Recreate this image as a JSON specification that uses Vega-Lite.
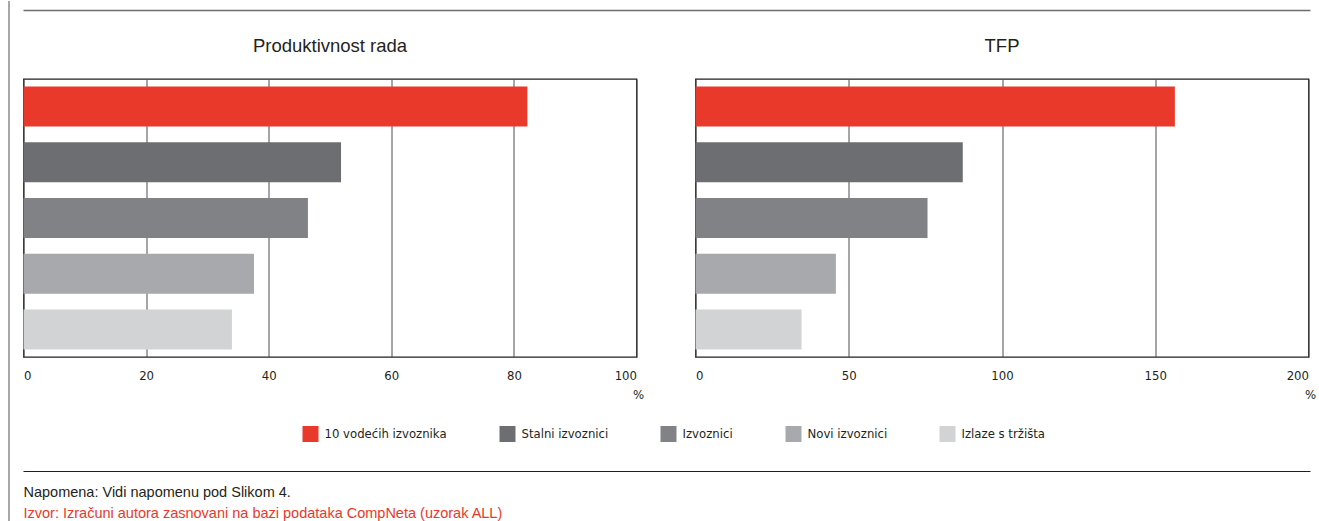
{
  "$schema": "https://vega.github.io/schema/vega-lite/v6.json",
  "padding": {"left": 8, "top": 0, "right": 0, "bottom": 0},
  "background": "white",
  "spacing": 12.5,
  "datasets": {
    "bars": [
      {"panel": "Produktivnost rada", "group": "10 vodećih izvoznika", "value": 82.2},
      {"panel": "Produktivnost rada", "group": "Stalni izvoznici", "value": 51.8},
      {"panel": "Produktivnost rada", "group": "Izvoznici", "value": 46.4},
      {"panel": "Produktivnost rada", "group": "Novi izvoznici", "value": 37.6},
      {"panel": "Produktivnost rada", "group": "Izlaze s tržišta", "value": 34.0},
      {"panel": "TFP", "group": "10 vodećih izvoznika", "value": 156.4},
      {"panel": "TFP", "group": "Stalni izvoznici", "value": 87.2},
      {"panel": "TFP", "group": "Izvoznici", "value": 75.7},
      {"panel": "TFP", "group": "Novi izvoznici", "value": 45.8},
      {"panel": "TFP", "group": "Izlaze s tržišta", "value": 34.6}
    ],
    "notes": [
      {"order": 1, "line": "Napomena: Vidi napomenu pod Slikom 4.", "kind": "note"},
      {"order": 2, "line": "Izvor: Izračuni autora zasnovani na bazi podataka CompNeta (uzorak ALL)", "kind": "source"}
    ],
    "one": [{"k": 1}]
  },
  "config": {
    "view": {"stroke": "#231f20", "strokeWidth": 1.3},
    "font": "Liberation Sans",
    "title": {"font": "Liberation Sans", "fontSize": 18.5, "fontWeight": "normal", "color": "#231f20", "offset": 24},
    "axis": {
      "labelFont": "Liberation Sans Narrow, DejaVu Sans Condensed, sans-serif",
      "labelFontSize": 13,
      "labelColor": "#231f20",
      "titleFont": "Liberation Sans Narrow, DejaVu Sans Condensed, sans-serif",
      "titleFontSize": 13,
      "titleFontWeight": "normal",
      "titleColor": "#231f20"
    }
  },
  "resolve": {"scale": {"color": "independent"}, "legend": {"color": "independent"}},
  "hconcat": [
    {
      "data": {"name": "one"},
      "width": 1,
      "height": 521,
      "view": {"stroke": null},
      "mark": {"type": "rule", "color": "#6d6e71", "strokeWidth": 1.2},
      "encoding": {"x": {"value": 0}}
    },
    {
      "spacing": 0,
      "resolve": {"scale": {"color": "independent"}, "legend": {"color": "independent"}},
      "vconcat": [
        {
          "data": {"name": "one"},
          "width": 1287,
          "height": 34,
          "view": {"stroke": null},
          "mark": {"type": "rule", "color": "#6d6e71", "strokeWidth": 1.5},
          "encoding": {"y": {"value": 9.5}}
        },
        {
          "data": {"name": "bars"},
          "spacing": 59,
          "bounds": "flush",
          "hconcat": [
            {
              "title": {"text": "Produktivnost rada"},
              "width": 613,
              "height": 278,
              "transform": [{"filter": "datum.panel === 'Produktivnost rada'"}],
              "mark": {"type": "bar"},
              "encoding": {
                "y": {"field": "group", "type": "nominal", "sort": ["10 vodećih izvoznika", "Stalni izvoznici", "Izvoznici", "Novi izvoznici", "Izlaze s tržišta"], "axis": null, "scale": {"paddingInner": 0.2825, "paddingOuter": 0.135}},
                "x": {"field": "value", "type": "quantitative", "scale": {"domain": [0, 100], "nice": false}, "axis": {"values": [0, 20, 40, 60, 80, 100], "title": "%", "domain": false, "ticks": false, "grid": true, "gridColor": "#4d4d4f", "gridWidth": 1, "gridOpacity": 1, "labelPadding": 12, "titleAnchor": "end", "titleAlign": "right", "titleX": 620, "titleY": 37, "titleBaseline": "middle"}},
                "color": {"field": "group", "type": "nominal", "scale": {"domain": ["10 vodećih izvoznika", "Stalni izvoznici", "Izvoznici", "Novi izvoznici", "Izlaze s tržišta"], "range": ["#e8392b", "#6d6e71", "#808285", "#a7a9ac", "#d1d3d4"]},
                  "legend": {"orient": "none", "legendX": 279, "legendY": 347, "direction": "horizontal", "title": null, "symbolType": "square", "symbolSize": 256, "symbolStrokeWidth": 0, "symbolOpacity": 1, "labelFont": "Liberation Sans Narrow, DejaVu Sans Condensed, sans-serif", "labelFontSize": 13, "labelColor": "#231f20", "labelOffset": 6, "columnPadding": 52, "labelLimit": 300}}
              }
            },
            {
              "title": {"text": "TFP"},
              "width": 613,
              "height": 278,
              "transform": [{"filter": "datum.panel === 'TFP'"}],
              "mark": {"type": "bar"},
              "encoding": {
                "y": {"field": "group", "type": "nominal", "sort": ["10 vodećih izvoznika", "Stalni izvoznici", "Izvoznici", "Novi izvoznici", "Izlaze s tržišta"], "axis": null, "scale": {"paddingInner": 0.2825, "paddingOuter": 0.135}},
                "x": {"field": "value", "type": "quantitative", "scale": {"domain": [0, 200], "nice": false}, "axis": {"values": [0, 50, 100, 150, 200], "title": "%", "domain": false, "ticks": false, "grid": true, "gridColor": "#4d4d4f", "gridWidth": 1, "gridOpacity": 1, "labelPadding": 12, "titleAnchor": "end", "titleAlign": "right", "titleX": 620, "titleY": 37, "titleBaseline": "middle"}},
                "color": {"field": "group", "type": "nominal", "scale": {"domain": ["10 vodećih izvoznika", "Stalni izvoznici", "Izvoznici", "Novi izvoznici", "Izlaze s tržišta"], "range": ["#e8392b", "#6d6e71", "#808285", "#a7a9ac", "#d1d3d4"]}}
              }
            }
          ]
        },
        {
          "data": {"name": "one"},
          "width": 1287,
          "height": 40,
          "view": {"stroke": null},
          "mark": {"type": "rule", "color": "#231f20", "strokeWidth": 1.2},
          "encoding": {"y": {"value": 29.5}}
        },
        {
          "data": {"name": "notes"},
          "width": 1287,
          "height": 42,
          "view": {"stroke": null},
          "mark": {"type": "text", "align": "left", "baseline": "middle", "font": "Liberation Sans", "fontSize": 14.5},
          "encoding": {
            "x": {"value": 0},
            "y": {"field": "order", "type": "ordinal", "axis": null, "scale": {"paddingInner": 0, "paddingOuter": 0}},
            "text": {"field": "line"},
            "color": {"field": "kind", "type": "nominal", "legend": null, "scale": {"domain": ["note", "source"], "range": ["#231f20", "#e8392b"]}}
          }
        }
      ]
    }
  ]
}
